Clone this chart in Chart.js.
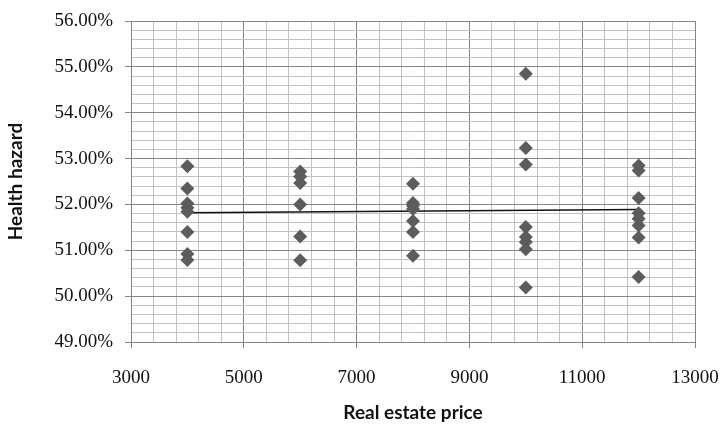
<!DOCTYPE html>
<html>
<head>
<meta charset="utf-8">
<script src="https://cdn.jsdelivr.net/npm/chart.js@4"></script>
<style>
  html, body { margin: 0; padding: 0; background: #fff; }
  canvas { display: block; }
</style>
</head>
<body>
<canvas id="chart" width="724" height="429"></canvas>
<script>
// real estate price (x) and health hazard in % (y)
const priceValues = [
  4000, 4000, 4000, 4000, 4000, 4000, 4000, 4000,
  6000, 6000, 6000, 6000, 6000, 6000,
  8000, 8000, 8000, 8000, 8000, 8000, 8000,
  10000, 10000, 10000, 10000, 10000, 10000, 10000, 10000,
  12000, 12000, 12000, 12000, 12000, 12000, 12000, 12000
];
const hazardValues = [
  52.83, 52.35, 52.02, 51.93, 51.84, 51.40, 50.92, 50.79,
  52.72, 52.61, 52.47, 52.00, 51.30, 50.78,
  52.45, 52.03, 51.97, 51.90, 51.64, 51.40, 50.88,
  54.85, 53.23, 52.87, 51.51, 51.29, 51.18, 51.02, 50.19,
  52.85, 52.74, 52.14, 51.81, 51.69, 51.54, 51.28, 50.42
];
// trend line end points
const trendX = [4000, 12000];
const trendY = [51.82, 51.89];

// labelled x ticks
const xTickLabels = [3000, 5000, 7000, 9000, 11000, 13000];

const MINOR = '#c2c2c2';
const MAJOR = '#858585';

function isMajorY(v) { return Math.abs(v - Math.round(v)) < 1e-6; }
function isMajorX(v) { return xTickLabels.some(t => Math.abs(t - v) < 1e-6); }

const ctx = document.getElementById('chart').getContext('2d');

new Chart(ctx, {
  type: 'scatter',
  data: {
    datasets: [
      {
        label: 'Health hazard',
        data: priceValues.map((x, i) => ({ x: x, y: hazardValues[i] })),
        pointStyle: 'rectRot',
        pointRadius: 7,
        pointHoverRadius: 7,
        backgroundColor: '#5c5c5c',
        borderColor: '#5c5c5c',
        borderWidth: 0
      },
      {
        label: 'Trend',
        type: 'line',
        data: trendX.map((x, i) => ({ x: x, y: trendY[i] })),
        borderColor: '#111',
        borderWidth: 1.5,
        pointRadius: 0,
        fill: false
      }
    ]
  },
  options: {
    responsive: false,
    animation: false,
    layout: { padding: { top: 21, right: 29, bottom: 0, left: 0 } },
    plugins: {
      legend: { display: false },
      tooltip: { enabled: false }
    },
    scales: {
      x: {
        type: 'linear',
        min: 3000,
        max: 13000,
        afterFit: (scale) => {
          scale.height = 87;
          scale.paddingLeft = 0;
          scale.paddingRight = 0;
        },
        ticks: {
          stepSize: 400,
          maxTicksLimit: 100,
          autoSkip: false,
          maxRotation: 0,
          padding: 19,
          color: '#111',
          font: { family: 'Liberation Serif', size: 19 },
          callback: (v) => isMajorX(v) ? String(v) : ''
        },
        grid: {
          color: (c) => isMajorX(c.tick.value) ? MAJOR : MINOR,
          lineWidth: 1,
          tickLength: 6,
          tickColor: (c) => isMajorX(c.tick.value) ? MAJOR : 'rgba(0,0,0,0)'
        },
        border: { color: MAJOR, width: 1 },
        title: {
          display: true,
          text: 'Real estate price',
          color: '#111',
          font: { family: 'Lato', size: 19, weight: 'bold' },
          padding: { top: 0, bottom: 5 }
        }
      },
      y: {
        min: 49,
        max: 56,
        afterFit: (scale) => {
          scale.width = 131;
          scale.paddingTop = 0;
          scale.paddingBottom = 0;
        },
        ticks: {
          stepSize: 0.2,
          maxTicksLimit: 100,
          autoSkip: false,
          padding: 12,
          color: '#111',
          font: { family: 'Liberation Serif', size: 19 },
          callback: (v) => isMajorY(v) ? Number(v).toFixed(2) + '%' : ''
        },
        grid: {
          color: (c) => isMajorY(c.tick.value) ? MAJOR : MINOR,
          lineWidth: 1,
          tickLength: 6,
          tickColor: (c) => isMajorY(c.tick.value) ? MAJOR : 'rgba(0,0,0,0)'
        },
        border: { color: MAJOR, width: 1 },
        title: {
          display: true,
          text: 'Health hazard',
          color: '#111',
          font: { family: 'Lato', size: 19, weight: 'bold' },
          padding: { top: 4, bottom: 0 }
        }
      }
    }
  }
});
</script>
</body>
</html>
